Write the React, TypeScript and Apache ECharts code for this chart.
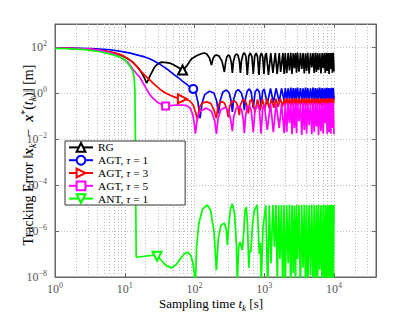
import React, { useEffect, useRef } from 'react';
import * as echarts from 'echarts';

const SERIF = "'Liberation Serif', 'DejaVu Serif', serif";

const SERIES_NAMES = ['RG', 'AGT, τ = 1', 'AGT, τ = 3', 'AGT, τ = 5', 'ANT, τ = 1'];
const COLORS = ['#000000', '#0000ff', '#ff0000', '#ff00ff', '#00ff00'];
const SYMBOLS = ['emptyTriangle', 'emptyCircle', 'emptyTriangle', 'emptyRect', 'emptyTriangle'];
const SYMBOL_ROTATE = [0, 0, -90, 0, 180];
const SYMBOL_SIZE = [9, 8, 9, 7, 9];
const MARKER_T = [67.4, 96, 67, 38.5, 29];

const MINOR_GRID_X = [
  2, 3, 4, 5, 6, 7, 8, 9,
  20, 30, 40, 50, 60, 70, 80, 90,
  200, 300, 400, 500, 600, 700, 800, 900,
  2000, 3000, 4000, 5000, 6000, 7000, 8000, 9000,
  20000, 30000,
];

// sampling instants of the dense oscillation band (t from 2e3 to 1e4)
const BAND_T = [
  2000, 2100, 2200, 2300, 2400, 2500, 2600, 2700, 2800, 2900, 3000,
  3150, 3300, 3450, 3600, 3750, 3900, 4050, 4200,
  4400, 4600, 4800, 5000, 5200, 5400, 5600, 5800, 6000,
  6250, 6500, 6750, 7000, 7250, 7500, 7750, 8000, 8250, 8500, 8750, 9000, 9250, 9500, 9750, 10000,
];

const RG_HEAD = [
  [1, 90.5], [2, 86], [3.2, 82], [4.4, 72], [6.1, 61], [8, 49], [9.4, 41], [11, 31], [13, 22], [15, 14],
  [16.4, 10], [18, 6.5], [19.5, 4], [20.6, 2.7], [21.8, 3.8], [23, 5.5], [26.8, 13.5], [30, 19], [34, 22],
  [40, 21], [44, 20], [50, 17], [57, 13.5], [63, 11], [67.4, 10], [72, 11.5], [79, 16.5], [90, 30],
  [107, 42], [125, 51], [139, 55], [150, 50], [164, 33], [175, 16.5], [185, 32], [195, 42], [206, 45],
  [225, 40], [248, 24], [268, 8.2], [280, 22], [292, 38], [305, 45], [320, 40], [337, 22], [349, 7.4],
  [362, 24], [380, 42], [398, 50], [420, 44], [440, 24], [455, 7.4], [472, 26], [495, 48], [518, 55],
  [545, 40], [572, 6.1], [600, 40], [630, 55], [665, 38], [696, 6.7], [730, 40], [765, 55], [800, 38],
  [840, 6.1], [875, 40], [910, 55], [950, 38], [990, 6.7], [1030, 40], [1070, 55], [1150, 6.1],
  [1240, 55], [1330, 7.4], [1440, 55], [1530, 6.7], [1640, 55], [1720, 8.2], [1850, 55], [1930, 6.7],
];
const RG_BAND = [
  55, 7.2, 54, 9.5, 56, 6.8, 53, 12, 55, 7.6, 57, 8.5, 54, 11, 55, 7, 53, 9, 56, 6.9, 55, 13,
  54, 7.5, 56, 8.2, 55, 10, 53, 7.1, 55, 12, 54, 7.4, 56, 9, 55, 6.8, 54, 11, 55, 7.7, 56, 8.6,
];

const AGT1_HEAD = [
  [1, 91], [2, 88], [3.2, 85], [4.4, 82], [6.1, 76], [8, 68], [10, 60], [12, 54], [14, 48], [16.4, 42],
  [19.3, 37], [22.8, 31], [26.8, 24], [31.6, 18], [37.3, 13], [44, 9], [52, 6], [61, 4.2], [67, 3.3],
  [76, 2.5], [85, 1.9], [96, 1.5], [104, 1.05], [112, 0.4], [120, 0.08], [128, 0.35], [140, 0.85],
  [164, 1.2], [190, 1.0], [208, 0.45], [220, 0.13], [235, 0.5], [255, 1.1], [287, 1.35], [315, 1.0],
  [335, 0.45], [349, 0.15], [365, 0.55], [395, 1.2], [425, 1.4], [470, 1.0], [500, 0.5], [518, 0.18],
  [540, 0.6], [570, 1.2], [611, 1.5], [650, 1.1], [696, 0.22], [740, 1.1], [794, 1.5], [850, 1.1],
  [900, 0.27], [950, 1.2], [1000, 1.5], [1104, 0.33], [1230, 1.6], [1350, 0.37], [1480, 1.6],
  [1640, 0.41], [1770, 1.6], [1930, 0.45],
];
const AGT1_BAND = [
  1.65, 0.5, 1.6, 0.47, 1.7, 0.52, 1.65, 0.48, 1.6, 0.55, 1.7, 0.5, 1.65, 0.46, 1.6, 0.52, 1.7, 0.49,
  1.65, 0.5, 1.6, 0.47, 1.7, 0.53, 1.65, 0.48, 1.6, 0.5, 1.7, 0.46, 1.65, 0.52, 1.6, 0.49, 1.7, 0.5,
  1.65, 0.47, 1.6, 0.53, 1.7, 0.48, 1.65, 0.5,
];

const AGT3_HEAD = [
  [1, 90.5], [2, 86], [3.2, 82], [4.4, 72], [6.1, 61], [8, 50], [9.4, 42], [11, 32], [13, 22], [15, 14],
  [17, 9], [19.3, 6], [22.8, 3.7], [26.8, 2.3], [31.6, 1.5], [37.3, 1.05], [44, 0.82], [52, 0.66],
  [60, 0.58], [67, 0.55], [76, 0.52], [86, 0.45], [96, 0.3], [104, 0.14], [110, 0.07], [118, 0.25],
  [130, 0.37], [150, 0.41], [172, 0.35], [190, 0.18], [206, 0.08], [215, 0.22], [230, 0.38], [250, 0.42],
  [270, 0.36], [290, 0.2], [305, 0.09], [318, 0.25], [340, 0.42], [373, 0.45], [400, 0.38], [425, 0.2],
  [439, 0.11], [455, 0.3], [485, 0.48], [518, 0.5], [555, 0.35], [590, 0.13], [625, 0.45], [665, 0.52],
  [740, 0.15], [800, 0.53], [870, 0.17], [940, 0.55], [1010, 0.19], [1090, 0.55], [1180, 0.21],
  [1270, 0.56], [1370, 0.23], [1470, 0.56], [1580, 0.25], [1700, 0.57], [1830, 0.26], [1940, 0.57],
];
const AGT3_BAND = [
  0.28, 0.58, 0.3, 0.56, 0.26, 0.6, 0.29, 0.57, 0.31, 0.58, 0.27, 0.59, 0.3, 0.56, 0.28, 0.6, 0.26,
  0.57, 0.3, 0.58, 0.29, 0.59, 0.27, 0.56, 0.31, 0.6, 0.28, 0.57, 0.3, 0.58, 0.26, 0.59, 0.29, 0.56,
  0.3, 0.6, 0.27, 0.57, 0.31, 0.58, 0.28, 0.59, 0.3, 0.57,
];

const AGT5_HEAD = [
  [1, 90.5], [2, 86], [3.2, 82], [4.4, 71], [6.1, 56], [8, 42], [9.4, 30], [11, 22], [13, 11], [15, 6.5],
  [16.4, 5], [18, 3.0], [20, 1.7], [22.8, 0.85], [25, 0.62], [28.5, 0.43], [31.6, 0.35], [35, 0.3],
  [38.5, 0.27], [45, 0.285], [55, 0.3], [67, 0.3], [78, 0.28], [87, 0.22], [94, 0.12], [99, 0.05],
  [103, 0.017], [110, 0.08], [120, 0.16], [148, 0.22], [175, 0.16], [195, 0.06], [206, 0.0165],
  [218, 0.08], [240, 0.19], [275, 0.235], [305, 0.17], [330, 0.07], [349, 0.022], [365, 0.09],
  [395, 0.22], [439, 0.27], [475, 0.18], [500, 0.07], [518, 0.018], [540, 0.1], [570, 0.24], [611, 0.28],
  [650, 0.18], [696, 0.02], [740, 0.2], [794, 0.3], [850, 0.2], [900, 0.017], [950, 0.22], [1000, 0.32],
  [1104, 0.025], [1230, 0.33], [1350, 0.02], [1480, 0.34], [1640, 0.03], [1770, 0.35], [1930, 0.018],
];
const AGT5_BAND = [
  0.37, 0.02, 0.38, 0.05, 0.36, 0.016, 0.39, 0.03, 0.37, 0.018, 0.38, 0.06, 0.36, 0.015, 0.39, 0.025,
  0.37, 0.017, 0.38, 0.04, 0.36, 0.016, 0.39, 0.02, 0.37, 0.035, 0.38, 0.015, 0.36, 0.022, 0.39, 0.017,
  0.37, 0.05, 0.38, 0.016, 0.36, 0.02, 0.39, 0.017, 0.37, 0.03, 0.38, 0.016,
];

const ANT_HEAD = [
  [1, 88], [1.64, 84], [2.68, 77], [4.39, 62], [6.1, 50], [8.5, 37], [10, 28], [11.8, 15], [13, 9],
  [13.6, 5], [14.0, 1.2], [14.2, 0.01], [14.4, 1e-5], [14.6, 7.2e-8], [18, 7.8e-8], [22, 8.4e-8],
  [26, 8.8e-8], [29, 8e-8], [33, 5.5e-8], [39, 3.2e-8], [47, 2.5e-8], [55, 3.5e-8], [62, 6e-8],
  [72, 1.05e-7], [80, 1.2e-7], [88, 9e-8], [95, 4e-8], [100, 1.2e-8], [103, 4e-9], [107, 2e-7],
  [115, 2e-6], [130, 9e-6], [153, 1.35e-5], [170, 8e-6], [190, 1e-6], [206, 2e-8], [220, 5e-7],
  [240, 1.8e-6], [268, 2.2e-6], [285, 1.2e-6], [296, 2.5e-7], [310, 2e-6], [330, 1e-5], [349, 1.5e-5],
  [375, 6e-6], [400, 2e-7], [411, 6e-9], [430, 2e-7], [450, 3.3e-7], [485, 1.5e-7], [510, 1e-6],
  [530, 8e-6], [553, 1.1e-5], [575, 2e-6], [600, 2.5e-8], [620, 1.5e-7], [640, 1.2e-7], [680, 2e-6],
  [720, 8e-6], [794, 1.35e-5], [850, 1e-7], [880, 3e-7], [905, 5e-9], [960, 1.4e-6], [1050, 1.35e-5],
  [1120, 3e-9], [1180, 1.3e-5], [1250, 4e-8], [1330, 1.35e-5], [1400, 2e-7], [1470, 1.35e-5],
  [1540, 5e-9], [1610, 1.3e-5], [1680, 6e-8], [1760, 1.35e-5], [1840, 3e-9], [1920, 1.35e-5],
];
const ANT_BAND = [
  3e-9, 1.3e-5, 4e-8, 1.4e-5, 2e-9, 1.35e-5, 1.5e-8, 1.25e-5, 3e-9, 1.4e-5, 6e-8, 1.3e-5, 2e-9,
  1.35e-5, 2.5e-8, 1.4e-5, 3e-9, 1.3e-5, 2e-9, 1.35e-5, 1.2e-8, 1.4e-5, 3e-9, 1.3e-5, 2e-9, 1.35e-5,
  3e-9, 1.4e-5, 2e-8, 1.3e-5, 2e-9, 1.35e-5, 3e-9, 1.4e-5, 2e-9, 1.3e-5, 4e-9, 1.35e-5, 2e-9, 1.4e-5,
  3e-9, 1.3e-5, 2e-9, 1.35e-5,
];

const HEADS = [RG_HEAD, AGT1_HEAD, AGT3_HEAD, AGT5_HEAD, ANT_HEAD];
const BANDS = [RG_BAND, AGT1_BAND, AGT3_BAND, AGT5_BAND, ANT_BAND];

const LABEL_COLOR = '#555555';
const GRID_COLOR = '#bcbcbc';
const AXIS_COLOR = '#666666';
const LEGEND_FS = 11.4;
const LEGEND_LH = 12.8;

const powLabel = (v: number, step: number) => {
  const e = Math.log10(v);
  const r = Math.round(e);
  if (Math.abs(e - r) > 1e-6) return '';
  if (r % step !== 0) return '';
  return `{b|10}{s|${r < 0 ? '−' + -r : r}}`;
};

const labelRich = {
  b: { fontSize: 12, lineHeight: 16, fontFamily: SERIF, color: LABEL_COLOR },
  s: { fontSize: 8, lineHeight: 9, verticalAlign: 'top', fontFamily: SERIF, color: LABEL_COLOR },
};

const titleRich = (fs: number) => ({
  n: { fontSize: fs, lineHeight: 18, fontFamily: SERIF, fill: '#000' },
  b: { fontSize: fs, lineHeight: 18, fontFamily: SERIF, fontWeight: 'bold', fontStyle: 'italic', fill: '#000' },
  i: { fontSize: fs, lineHeight: 18, fontFamily: SERIF, fontStyle: 'italic', fill: '#000' },
  s: { fontSize: fs * 0.7, lineHeight: 11, fontFamily: SERIF, fontStyle: 'italic', verticalAlign: 'bottom', fill: '#000' },
  p: { fontSize: fs * 0.7, lineHeight: 11, fontFamily: SERIF, verticalAlign: 'top', fill: '#000' },
});

const Y_TITLE = '{n|Tracking Error ‖}{b|x}{s|k}{n|  −  }{b|x}{p|*}{n|(}{i|t}{s|k}{n|)‖ [m]}';
const X_TITLE = '{n|Sampling time }{i|t}{s|k}{n| [s]}';

export default function App() {
  const ref = useRef<HTMLDivElement>(null);
  useEffect(() => {
    if (!ref.current) return;
    const chart = echarts.init(ref.current, undefined, { renderer: 'svg' });

    const series: any[] = SERIES_NAMES.map((name, k) => {
      const pts = [...HEADS[k], ...BANDS[k].map((y, i) => [BAND_T[i], y])];
      const data = pts.map((p) =>
        p[0] === MARKER_T[k] ? { value: p, symbolSize: SYMBOL_SIZE[k] } : p
      );
      const s: any = {
        name,
        type: 'line',
        data,
        symbol: SYMBOLS[k],
        symbolRotate: SYMBOL_ROTATE[k],
        symbolSize: 0,
        showSymbol: true,
        showAllSymbol: true,
        clip: true,
        lineStyle: { color: COLORS[k], width: 1.7 },
        itemStyle: { color: COLORS[k] },
        emphasis: { disabled: true },
        z: 2,
      };
      if (k === 0) {
        s.markLine = {
          silent: true,
          symbol: ['none', 'none'],
          label: { show: false },
          lineStyle: { color: GRID_COLOR, type: [1, 2], width: 1 },
          emphasis: { disabled: true },
          animation: false,
          z: 1,
          data: MINOR_GRID_X.map((v) => ({ xAxis: v })),
        };
      }
      return s;
    });

    const commonX = { type: 'log', logBase: 10, min: 1, max: 40000, interval: 1 };
    const commonY = { type: 'log', logBase: 10, min: 1e-8, max: 1000, interval: 2 };
    const tick = { show: true, inside: true, length: 4, lineStyle: { color: AXIS_COLOR } };
    const line = { show: true, lineStyle: { color: AXIS_COLOR, width: 1 } };
    const split = { show: true, lineStyle: { color: GRID_COLOR, type: [1, 2], width: 1 } };

    chart.setOption({
      animation: false,
      textStyle: { fontFamily: SERIF },
      grid: {
        left: 55, right: 39, top: 24, bottom: 38,
        show: true, borderColor: AXIS_COLOR, borderWidth: 1, backgroundColor: 'transparent',
      },
      xAxis: [
        {
          ...commonX,
          position: 'bottom',
          axisLine: line,
          axisTick: tick,
          axisLabel: { formatter: (v: number) => powLabel(v, 1), rich: labelRich, margin: 4 },
          splitLine: split,
        },
        {
          ...commonX,
          position: 'top',
          axisLine: line,
          axisTick: tick,
          axisLabel: { show: false },
          splitLine: { show: false },
        },
      ],
      yAxis: [
        {
          ...commonY,
          position: 'left',
          axisLine: line,
          axisTick: tick,
          axisLabel: { formatter: (v: number) => powLabel(v, 2), rich: labelRich, margin: 8 },
          splitLine: split,
        },
        {
          ...commonY,
          position: 'right',
          axisLine: line,
          axisTick: tick,
          axisLabel: { show: false },
          splitLine: { show: false },
        },
      ],
      legend: {
        data: SERIES_NAMES,
        orient: 'vertical',
        left: 65,
        top: 141,
        itemWidth: 24,
        itemHeight: 11,
        itemGap: 0,
        padding: [0, 37, 0, 3],
        backgroundColor: '#ffffff',
        borderColor: '#333333',
        borderWidth: 1,
        borderRadius: 0,
        selectedMode: false,
        textStyle: {
          fontFamily: SERIF,
          fontSize: LEGEND_FS,
          color: '#000',
          lineHeight: LEGEND_LH,
          rich: {
            i: { fontFamily: SERIF, fontSize: LEGEND_FS, fontStyle: 'italic', color: '#000', lineHeight: LEGEND_LH },
          },
        },
        formatter: (n: string) => n.replace('τ', '{i|τ}'),
      },
      graphic: [
        {
          type: 'text',
          x: 28,
          y: 155,
          rotation: Math.PI / 2,
          silent: true,
          style: {
            text: Y_TITLE,
            rich: titleRich(14),
            align: 'center',
            verticalAlign: 'middle',
            fontFamily: SERIF,
            fontSize: 14,
            fill: '#000',
          },
        },
        {
          type: 'text',
          x: 211,
          y: 303,
          silent: true,
          style: {
            text: X_TITLE,
            rich: titleRich(13),
            align: 'center',
            verticalAlign: 'middle',
            fontFamily: SERIF,
            fontSize: 13,
            fill: '#000',
          },
        },
      ],
      series,
    });

    return () => {
      chart.dispose();
    };
  }, []);

  return (
    <div
      ref={ref}
      style={{ position: 'fixed', left: 0, top: 0, width: 415, height: 315, background: '#ffffff' }}
    />
  );
}
